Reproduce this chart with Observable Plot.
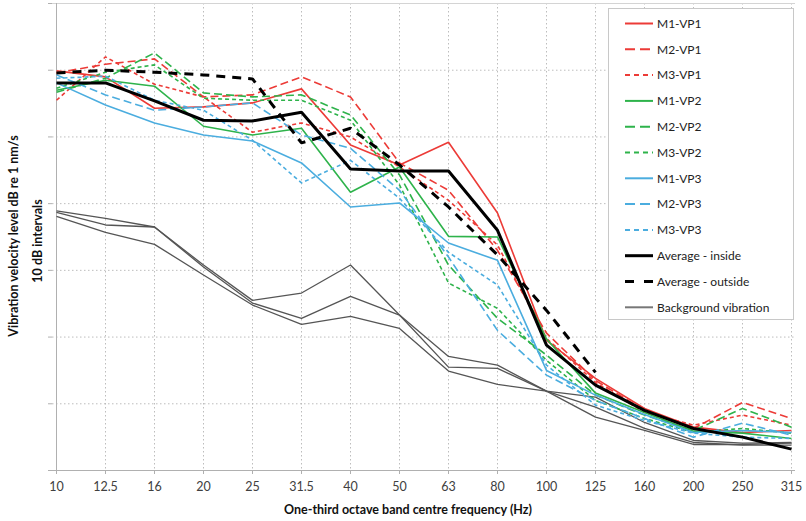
<!DOCTYPE html>
<html><head><meta charset="utf-8">
<script src="https://cdn.jsdelivr.net/npm/d3@7"></script>
<script src="https://cdn.jsdelivr.net/npm/@observablehq/plot@0.6"></script>
<style>
body{margin:0;background:#fff;}
#chart{width:806px;height:521px;}
</style></head><body><div id="chart"></div>
<script>
// One-third octave band centre frequencies (Hz)
const freqs = ["10","12.5","16","20","25","31.5","40","50","63","80","100","125","160","200","250","315"];

// Vibration velocity level (dB, relative; gridlines at 10 dB intervals)
const m1vp1 = [59.9, 59.0, 54.3, 54.5, 55.1, 57.2, 48.8, 45.8, 49.2, 38.6, 19.5, 13.8, 9.3, 6.5, 5.7, 6.0];
const m2vp1 = [59.6, 60.9, 61.7, 56.0, 56.3, 59.0, 56.0, 46.1, 42.0, 33.0, 20.6, 13.5, 9.0, 6.3, 10.2, 7.8];
const m3vp1 = [55.5, 62.0, 57.9, 56.0, 50.7, 52.1, 50.0, 45.5, 40.5, 33.8, 19.8, 13.2, 8.7, 6.8, 8.3, 6.8];
const m1vp2 = [57.0, 58.5, 57.6, 51.6, 50.3, 51.3, 41.7, 45.5, 35.1, 35.0, 19.7, 11.6, 8.7, 5.9, 5.6, 4.8];
const m2vp2 = [56.7, 58.8, 62.6, 56.6, 56.0, 56.3, 53.3, 44.3, 30.8, 22.8, 17.3, 11.3, 8.3, 6.0, 9.3, 6.5];
const m3vp2 = [57.3, 59.7, 60.8, 55.8, 55.5, 55.5, 52.5, 42.8, 28.1, 24.3, 16.5, 10.5, 7.8, 5.7, 6.3, 5.6];
const m1vp3 = [58.1, 54.8, 52.1, 50.3, 49.4, 46.1, 39.5, 40.1, 34.1, 31.5, 15.0, 11.3, 8.4, 5.7, 6.0, 5.7];
const m2vp3 = [59.3, 56.3, 54.0, 54.5, 55.1, 50.3, 48.3, 42.0, 32.0, 21.0, 14.3, 10.5, 7.8, 5.0, 7.1, 5.3];
const m3vp3 = [58.8, 59.1, 55.5, 54.0, 49.5, 43.1, 46.5, 40.8, 32.7, 27.8, 15.8, 9.8, 7.5, 5.6, 5.0, 4.8];
const avgInside = [58.1, 58.1, 55.4, 52.5, 52.4, 53.7, 45.2, 44.9, 44.9, 36.0, 18.8, 12.8, 9.0, 6.3, 5.0, 3.2];
const avgOutside = [59.6, 60.0, 59.7, 59.3, 58.7, 49.1, 51.3, 45.8, 39.5, 32.3, 24.0, 14.7, null, null, null, null];
const background1 = [38.9, 37.8, 36.5, 30.8, 25.5, 26.6, 30.8, 23.3, 17.1, 15.8, 11.9, 11.0, 7.2, 4.5, 4.1, 4.2];
const background2 = [38.7, 36.8, 36.5, 30.5, 25.1, 22.8, 26.1, 23.3, 15.5, 15.3, 11.9, 9.5, 6.3, 4.2, 3.8, 3.8];
const background3 = [38.1, 35.7, 33.9, 29.3, 24.8, 21.9, 23.1, 21.3, 14.9, 12.9, 11.9, 8.0, 6.0, 3.9, 3.9, 4.1];

const legendNames = ["M1-VP1","M2-VP1","M3-VP1","M1-VP2","M2-VP2","M3-VP2","M1-VP3","M2-VP3","M3-VP3","Average - inside","Average - outside","Background vibration"];
const yTicks = [0,10,20,30,40,50,60,70];

// styles (kept separate from data)
const RED = "#ec3b37", GREEN = "#2eb34b", BLUE = "#4baddf", BG = "#555555";
const LONG = "8,4", SHORT = "4,3";
const styles = {
  "M1-VP1": {c: RED, d: null, w: 1.6},
  "M2-VP1": {c: RED, d: LONG, w: 1.6},
  "M3-VP1": {c: RED, d: SHORT, w: 1.6},
  "M1-VP2": {c: GREEN, d: null, w: 1.6},
  "M2-VP2": {c: GREEN, d: LONG, w: 1.6},
  "M3-VP2": {c: GREEN, d: SHORT, w: 1.6},
  "M1-VP3": {c: BLUE, d: null, w: 1.6},
  "M2-VP3": {c: BLUE, d: LONG, w: 1.6},
  "M3-VP3": {c: BLUE, d: SHORT, w: 1.6},
  "Average - inside": {c: "#000", d: null, w: 3},
  "Average - outside": {c: "#000", d: "9,7", w: 3},
  "Background vibration": {c: BG, d: null, w: 1.3}
};

const seriesList = [
  ["Background vibration", background1],
  ["Background vibration", background2],
  ["Background vibration", background3],
  ["M1-VP1", m1vp1], ["M2-VP1", m2vp1], ["M3-VP1", m3vp1],
  ["M1-VP2", m1vp2], ["M2-VP2", m2vp2], ["M3-VP2", m3vp2],
  ["M1-VP3", m1vp3], ["M2-VP3", m2vp3], ["M3-VP3", m3vp3],
  ["Average - inside", avgInside], ["Average - outside", avgOutside]
];

const FONT = "Lato, 'Open Sans', sans-serif";
const gridStyle = {stroke: "#bdbdbd", strokeOpacity: 1, strokeWidth: 1, strokeDasharray: "1.5,2.5"};

const lineMarks = seriesList.map(([name, vals]) => {
  const s = styles[name];
  const rows = freqs.map((f, i) => ({f, v: vals[i]})).filter(d => d.v != null);
  return Plot.line(rows, {x: "f", y: "v", stroke: s.c, strokeWidth: s.w,
    strokeDasharray: s.d || undefined, strokeLinejoin: "miter", strokeLinecap: "butt"});
});

const plot = Plot.plot({
  width: 806, height: 521,
  marginLeft: 52, marginRight: 11, marginTop: 3, marginBottom: 51,
  style: {fontFamily: FONT, background: "#fff"},
  x: {type: "point", domain: freqs, padding: 0},
  y: {domain: [0, 70]},
  marks: [
    Plot.gridX(freqs, {...gridStyle}),
    Plot.gridY(yTicks, {...gridStyle}),
    Plot.ruleY([70], {stroke: "#d4d4d4"}),
    Plot.ruleY([0], {stroke: "#b0b0b0"}),
    Plot.ruleX([freqs[0]], {stroke: "#b0b0b0"}),
    Plot.axisX(freqs, {tickSize: 4, tickPadding: 8, fontSize: 12.5, fill: "#404040", stroke: "#b0b0b0", label: null}),
    Plot.axisY(yTicks, {tickSize: 4, tickFormat: () => "", stroke: "#b0b0b0", label: null}),
    ...lineMarks,
    Plot.text(["Vibration velocity level dB re 1 nm/s"], {frameAnchor: "left", textAnchor: "middle", lineAnchor: "middle", rotate: -90, dx: -39, dy: -1, fontSize: 12.5, fontWeight: "bold", fill: "#111"}),
    Plot.text(["10 dB intervals"], {frameAnchor: "left", textAnchor: "middle", lineAnchor: "middle", rotate: -90, dx: -15, dy: 4, fontSize: 12.5, fontWeight: "bold", fill: "#111"}),
    Plot.text(["One-third octave band centre frequency (Hz)"], {frameAnchor: "bottom", dx: -16, dy: 43, fontSize: 12.5, fontWeight: "bold", fill: "#111"})
  ]
});

// Legend box (drawn into the same SVG)
const svg = d3.select(plot);
const lg = svg.append("g").attr("font-family", FONT).attr("text-anchor", "start");
lg.append("rect").attr("x", 608.5).attr("y", 8.5).attr("width", 185).attr("height", 311)
  .attr("fill", "#fff").attr("stroke", "#c8c8c8");
legendNames.forEach((name, i) => {
  const s = styles[name];
  const y = 23.5 + i * 25.8;
  lg.append("line").attr("x1", 625).attr("x2", 653).attr("y1", y).attr("y2", y)
    .attr("stroke", name === "Background vibration" ? "#777" : s.c)
    .attr("stroke-width", s.w === 3 ? 3 : 2)
    .attr("stroke-dasharray", name === "Average - outside" ? "9,10" : (s.d ? (s.d === LONG ? "10,5" : "5,4") : null));
  lg.append("text").attr("x", 657).attr("y", y).attr("dy", "0.35em").attr("text-anchor", "start")
    .attr("font-size", 12).attr("fill", "#222").text(name);
});

document.getElementById("chart").appendChild(plot);
</script>
</body></html>
